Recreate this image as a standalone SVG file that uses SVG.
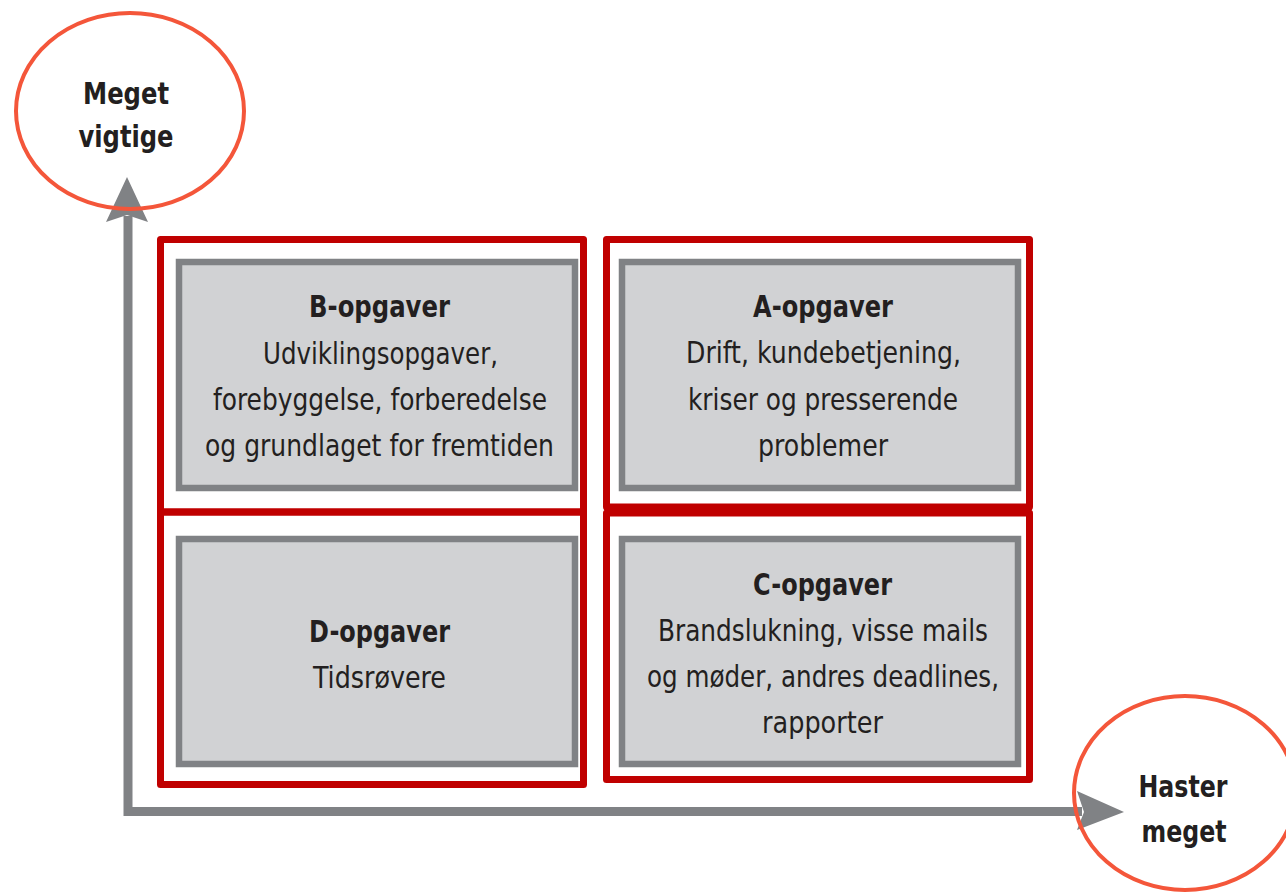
<svg xmlns="http://www.w3.org/2000/svg" width="1286" height="892" viewBox="0 0 1286 892">
  <style>
    .axis { fill: none; stroke: #808285; stroke-width: 9; }
    .head { fill: #808285; }
    .ring { fill: none; stroke: #F4563A; stroke-width: 4; }
    .frame { fill: none; stroke: #C00000; stroke-width: 7; stroke-linejoin: round; }
    .card { fill: #D1D2D4; stroke: #808285; stroke-width: 6.5; }
    .t { font-family: "Liberation Sans Narrow", "DejaVu Sans Condensed", "Liberation Sans", sans-serif; fill: #231F20; text-anchor: middle; }
    .title { font-size: 31px; font-weight: bold; }
    .body { font-size: 31px; }
  </style>
  <rect width="1286" height="892" fill="#FFFFFF"/>

  <!-- axes -->
  <g id="connectors">
    <path class="axis" d="M128,216 V811.5 H1082"/>
    <polygon class="head" points="127,177 148,222 127,215 106,222"/>
    <polygon class="head" points="1124,812 1077,791 1084,812 1077,830"/>
  </g>

  <!-- axis labels -->
  <g id="importance">
    <ellipse class="ring" cx="130" cy="111" rx="114" ry="98"/>
    <text class="t title" x="126" y="104" textLength="86" lengthAdjust="spacingAndGlyphs">Meget</text>
    <text class="t title" x="126" y="147" textLength="95" lengthAdjust="spacingAndGlyphs">vigtige</text>
  </g>
  <g id="urgency">
    <ellipse class="ring" cx="1185" cy="793" rx="111" ry="97"/>
    <text class="t title" x="1183" y="797" textLength="89" lengthAdjust="spacingAndGlyphs">Haster</text>
    <text class="t title" x="1184" y="842" textLength="85" lengthAdjust="spacingAndGlyphs">meget</text>
  </g>

  <!-- quadrant frames -->
  <g id="frames">
    <rect class="frame" x="160.5" y="239.5" width="423" height="272.5"/>
    <rect class="frame" x="160.5" y="512" width="423" height="272.5"/>
    <rect class="frame" x="606.5" y="239.5" width="423" height="267.5"/>
    <rect class="frame" x="606.5" y="513" width="423" height="266.5"/>
  </g>

  <g id="b-opgaver">
    <rect class="card" x="179" y="262" width="396" height="226"/>
    <text class="t title" x="379.5" y="317" textLength="141" lengthAdjust="spacingAndGlyphs">B-opgaver</text>
    <text class="t body" x="380.5" y="364" textLength="235" lengthAdjust="spacingAndGlyphs">Udviklingsopgaver,</text>
    <text class="t body" x="380" y="410" textLength="334" lengthAdjust="spacingAndGlyphs">forebyggelse, forberedelse</text>
    <text class="t body" x="379.5" y="456" textLength="349" lengthAdjust="spacingAndGlyphs">og grundlaget for fremtiden</text>
  </g>

  <g id="a-opgaver">
    <rect class="card" x="622" y="262" width="396" height="226"/>
    <text class="t title" x="823" y="317" textLength="140" lengthAdjust="spacingAndGlyphs">A-opgaver</text>
    <text class="t body" x="823.5" y="363" textLength="275" lengthAdjust="spacingAndGlyphs">Drift, kundebetjening,</text>
    <text class="t body" x="823" y="410" textLength="270" lengthAdjust="spacingAndGlyphs">kriser og presserende</text>
    <text class="t body" x="823" y="456" textLength="130" lengthAdjust="spacingAndGlyphs">problemer</text>
  </g>

  <g id="d-opgaver">
    <rect class="card" x="179" y="539" width="396" height="225"/>
    <text class="t title" x="379.5" y="642" textLength="141" lengthAdjust="spacingAndGlyphs">D-opgaver</text>
    <text class="t body" x="379.5" y="688" textLength="133" lengthAdjust="spacingAndGlyphs">Tidsrøvere</text>
  </g>

  <g id="c-opgaver">
    <rect class="card" x="622" y="539" width="396" height="225"/>
    <text class="t title" x="822.5" y="595" textLength="139" lengthAdjust="spacingAndGlyphs">C-opgaver</text>
    <text class="t body" x="823" y="641" textLength="330" lengthAdjust="spacingAndGlyphs">Brandslukning, visse mails</text>
    <text class="t body" x="823" y="687" textLength="352" lengthAdjust="spacingAndGlyphs">og møder, andres deadlines,</text>
    <text class="t body" x="822.5" y="733" textLength="121" lengthAdjust="spacingAndGlyphs">rapporter</text>
  </g>
</svg>
